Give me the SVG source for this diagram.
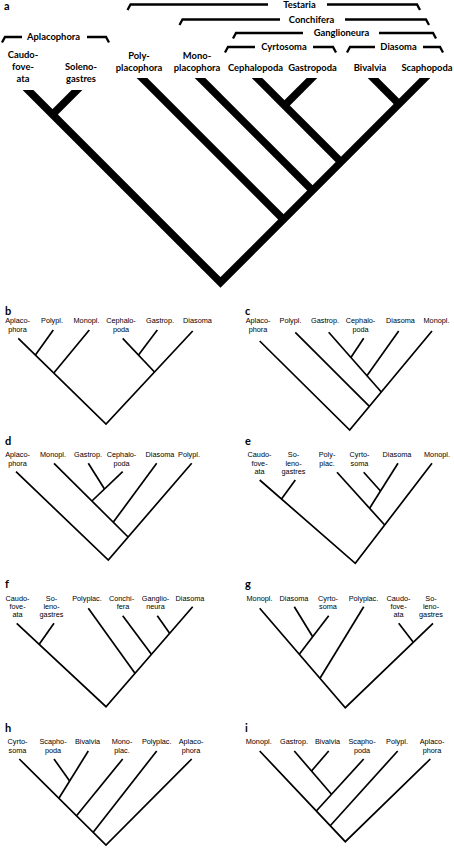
<svg xmlns="http://www.w3.org/2000/svg" width="454" height="850" viewBox="0 0 454 850">
<style>
.lb{font-family:Lato,"Liberation Sans",sans-serif;font-weight:bold;font-size:9.4px;text-anchor:middle;fill:#000}
.ls{font-family:"Liberation Sans",Arial,sans-serif;font-size:7.3px;text-anchor:middle;fill:#000}
.pl{font-family:Lato,"Liberation Sans",sans-serif;font-weight:bold;font-size:11px;fill:#000}
.thick{stroke:#000;stroke-width:7.5;fill:none;stroke-linejoin:miter}
.thin{stroke:#000;stroke-width:1.7;fill:none;stroke-linejoin:miter}
.br{stroke:#000;stroke-width:2.3;fill:none;stroke-linejoin:miter}
</style>
<defs>
<clipPath id="topcut"><path d="M0,90 H110 V78 H454 V300 H0 Z"/></clipPath>
</defs>
<rect width="454" height="850" fill="#fff"/>

<g id="panel-labels">
<text class="pl" x="4" y="10">a</text>
<text class="pl" x="5" y="315">b</text>
<text class="pl" x="245" y="315">c</text>
<text class="pl" x="5" y="445">d</text>
<text class="pl" x="245" y="445">e</text>
<text class="pl" x="5" y="588">f</text>
<text class="pl" x="245" y="588">g</text>
<text class="pl" x="5" y="732">h</text>
<text class="pl" x="245" y="732">i</text>
</g>

<!-- Panel a clade brackets -->
<g id="a-testaria"><path class="br" d="M127.5,10 L130.5,4.5 H268 M327,4.5 H417 L420,10"/><text class="lb" x="299.5" y="7.8">Testaria</text></g>
<g id="a-conchifera"><path class="br" d="M179.5,25 L182.5,19.5 H280 M345,19.5 H426 L429,25"/><text class="lb" x="311.5" y="22.8">Conchifera</text></g>
<g id="a-ganglioneura"><path class="br" d="M233,38.5 L236,33 H303 M379,33 H433 L436,38.5"/><text class="lb" x="341.5" y="36.3">Ganglioneura</text></g>
<g id="a-cyrtosoma"><path class="br" d="M225,52.5 L228,47 H255 M313,47 H333 L336,52.5"/><text class="lb" x="284" y="50.3">Cyrtosoma</text></g>
<g id="a-diasoma"><path class="br" d="M347,52.5 L350,47 H375 M423,47 H440 L443,52.5"/><text class="lb" x="398.5" y="50.3">Diasoma</text></g>
<g id="a-aplacophora"><path class="br" d="M2,42.5 L5,37 H22 M87,37 H106 L109,42.5"/><text class="lb" x="53.5" y="40.3">Aplacophora</text></g>

<!-- Panel a leaves -->
<g id="a-caudofoveata"><text class="lb" x="23" y="57.5">Caudo-</text><text class="lb" x="23" y="69.5">fove-</text><text class="lb" x="23" y="81.5">ata</text></g>
<g id="a-solenogastres"><text class="lb" x="81" y="69.5">Soleno-</text><text class="lb" x="81" y="81.5">gastres</text></g>
<g id="a-polyplacophora"><text class="lb" x="139" y="59">Poly-</text><text class="lb" x="139" y="71">placophora</text></g>
<g id="a-monoplacophora"><text class="lb" x="197" y="59">Mono-</text><text class="lb" x="197" y="71">placophora</text></g>
<g id="a-cephalopoda"><text class="lb" x="255.5" y="71">Cephalopoda</text></g>
<g id="a-gastropoda"><text class="lb" x="312.5" y="71">Gastropoda</text></g>
<g id="a-bivalvia"><text class="lb" x="370" y="71">Bivalvia</text></g>
<g id="a-scaphopoda"><text class="lb" x="427" y="71">Scaphopoda</text></g>

<!-- Panel b -->
<g id="b-aplacophora"><text class="ls" x="17.5" y="323.3">Aplaco-</text><text class="ls" x="17.5" y="331.5">phora</text></g>
<g id="b-polypl"><text class="ls" x="52" y="323.3">Polypl.</text></g>
<g id="b-monopl"><text class="ls" x="86.5" y="323.3">Monopl.</text></g>
<g id="b-cephalopoda"><text class="ls" x="121" y="323.3">Cephalo-</text><text class="ls" x="121" y="331.5">poda</text></g>
<g id="b-gastrop"><text class="ls" x="160" y="323.3">Gastrop.</text></g>
<g id="b-diasoma"><text class="ls" x="197.5" y="323.3">Diasoma</text></g>

<!-- Panel c -->
<g id="c-aplacophora"><text class="ls" x="258" y="323.3">Aplaco-</text><text class="ls" x="258" y="331.5">phora</text></g>
<g id="c-polypl"><text class="ls" x="290.5" y="323.3">Polypl.</text></g>
<g id="c-gastrop"><text class="ls" x="325" y="323.3">Gastrop.</text></g>
<g id="c-cephalopoda"><text class="ls" x="360.5" y="323.3">Cephalo-</text><text class="ls" x="360.5" y="331.5">poda</text></g>
<g id="c-diasoma"><text class="ls" x="400.5" y="323.3">Diasoma</text></g>
<g id="c-monopl"><text class="ls" x="436.5" y="323.3">Monopl.</text></g>

<!-- Panel d -->
<g id="d-aplacophora"><text class="ls" x="17.5" y="457.3">Aplaco-</text><text class="ls" x="17.5" y="465.5">phora</text></g>
<g id="d-monopl"><text class="ls" x="53" y="457.3">Monopl.</text></g>
<g id="d-gastrop"><text class="ls" x="88" y="457.3">Gastrop.</text></g>
<g id="d-cephalopoda"><text class="ls" x="121.5" y="457.3">Cephalo-</text><text class="ls" x="121.5" y="465.5">poda</text></g>
<g id="d-diasoma"><text class="ls" x="160" y="457.3">Diasoma</text></g>
<g id="d-polypl"><text class="ls" x="189" y="457.3">Polypl.</text></g>

<!-- Panel e -->
<g id="e-caudofoveata"><text class="ls" x="259.5" y="457.3">Caudo-</text><text class="ls" x="259.5" y="465.5">fove-</text><text class="ls" x="259.5" y="473.7">ata</text></g>
<g id="e-solenogastres"><text class="ls" x="293.5" y="457.3">So-</text><text class="ls" x="293.5" y="465.5">leno-</text><text class="ls" x="293.5" y="473.7">gastres</text></g>
<g id="e-polyplac"><text class="ls" x="327" y="457.3">Poly-</text><text class="ls" x="327" y="465.5">plac.</text></g>
<g id="e-cyrtosoma"><text class="ls" x="359.5" y="457.3">Cyrto-</text><text class="ls" x="359.5" y="465.5">soma</text></g>
<g id="e-diasoma"><text class="ls" x="397" y="457.3">Diasoma</text></g>
<g id="e-monopl"><text class="ls" x="437" y="457.3">Monopl.</text></g>

<!-- Panel f -->
<g id="f-caudofoveata"><text class="ls" x="17.5" y="600.8">Caudo-</text><text class="ls" x="17.5" y="609">fove-</text><text class="ls" x="17.5" y="617.2">ata</text></g>
<g id="f-solenogastres"><text class="ls" x="51.5" y="600.8">So-</text><text class="ls" x="51.5" y="609">leno-</text><text class="ls" x="51.5" y="617.2">gastres</text></g>
<g id="f-polyplac"><text class="ls" x="87" y="600.8">Polyplac.</text></g>
<g id="f-conchifera"><text class="ls" x="121.5" y="600.8">Conchi-</text><text class="ls" x="123" y="609">fera</text></g>
<g id="f-ganglioneura"><text class="ls" x="155.5" y="600.8">Ganglio-</text><text class="ls" x="155.5" y="609">neura</text></g>
<g id="f-diasoma"><text class="ls" x="190" y="600.8">Diasoma</text></g>

<!-- Panel g -->
<g id="g-monopl"><text class="ls" x="259.5" y="600.8">Monopl.</text></g>
<g id="g-diasoma"><text class="ls" x="294" y="600.8">Diasoma</text></g>
<g id="g-cyrtosoma"><text class="ls" x="328" y="600.8">Cyrto-</text><text class="ls" x="328" y="609">soma</text></g>
<g id="g-polyplac"><text class="ls" x="363.5" y="600.8">Polyplac.</text></g>
<g id="g-caudofoveata"><text class="ls" x="398.5" y="600.8">Caudo-</text><text class="ls" x="398.5" y="609">fove-</text><text class="ls" x="398.5" y="617.2">ata</text></g>
<g id="g-solenogastres"><text class="ls" x="431" y="600.8">So-</text><text class="ls" x="431" y="609">leno-</text><text class="ls" x="431" y="617.2">gastres</text></g>

<!-- Panel h -->
<g id="h-cyrtosoma"><text class="ls" x="17.5" y="744.3">Cyrto-</text><text class="ls" x="17.5" y="752.5">soma</text></g>
<g id="h-scaphopoda"><text class="ls" x="53" y="744.3">Scapho-</text><text class="ls" x="53" y="752.5">poda</text></g>
<g id="h-bivalvia"><text class="ls" x="87.5" y="744.3">Bivalvia</text></g>
<g id="h-monoplac"><text class="ls" x="122" y="744.3">Mono-</text><text class="ls" x="122" y="752.5">plac.</text></g>
<g id="h-polyplac"><text class="ls" x="156.7" y="744.3">Polyplac.</text></g>
<g id="h-aplacophora"><text class="ls" x="191" y="744.3">Aplaco-</text><text class="ls" x="191" y="752.5">phora</text></g>

<!-- Panel i -->
<g id="i-monopl"><text class="ls" x="258.7" y="744.3">Monopl.</text></g>
<g id="i-gastrop"><text class="ls" x="294" y="744.3">Gastrop.</text></g>
<g id="i-bivalvia"><text class="ls" x="327.5" y="744.3">Bivalvia</text></g>
<g id="i-scaphopoda"><text class="ls" x="362" y="744.3">Scapho-</text><text class="ls" x="362" y="752.5">poda</text></g>
<g id="i-polypl"><text class="ls" x="397" y="744.3">Polypl.</text></g>
<g id="i-aplacophora"><text class="ls" x="432" y="744.3">Aplaco-</text><text class="ls" x="432" y="752.5">phora</text></g>

<g id="connectors">
<g id="tree-a" class="thick" clip-path="url(#topcut)">
<path d="M20,82 L220.5,282.5 L433,70"/>
<path d="M52.5,114.5 L83,84"/>
<path d="M283.5,219.5 L136,72"/>
<path d="M312.5,190.5 L194,72"/>
<path d="M341,162 L251,72"/>
<path d="M284.5,105.5 L318,72"/>
<path d="M399,104 L367,72"/>
</g>
<g id="tree-b" class="thin">
<path d="M18.3,338.3 L106,424 L192.7,331"/>
<path d="M53.3,330 L35.4,355"/>
<path d="M89.3,330 L53.8,373"/>
<path d="M122.7,338.3 L154.5,372"/>
<path d="M157.3,330 L138.5,355"/>
</g>
<g id="tree-c" class="thin">
<path d="M259.7,341 L349.7,430 L432,331"/>
<path d="M295.3,332.3 L369.4,406.4"/>
<path d="M328.7,332.3 L381.3,392"/>
<path d="M363.7,338.3 L350.9,357.5"/>
<path d="M398.7,331 L366.9,375.7"/>
</g>
<g id="tree-d" class="thin">
<path d="M16,471.7 L108.3,560 L191.7,463.3"/>
<path d="M54,463.3 L128.1,537"/>
<path d="M122.7,471.7 L91.9,501"/>
<path d="M88.3,463.3 L104.5,489"/>
<path d="M156.7,463.3 L113.2,522.3"/>
</g>
<g id="tree-e" class="thin">
<path d="M259.7,480 L355.3,563.3 L432,463.3"/>
<path d="M295.3,480 L281.5,499"/>
<path d="M337,472.3 L384.7,525"/>
<path d="M398,463.3 L369.6,508.3"/>
<path d="M363.7,472.3 L380.5,491"/>
</g>
<g id="tree-f" class="thin">
<path d="M16.7,623.3 L106,706.7 L192.7,606.7"/>
<path d="M54,623.3 L39.2,644.3"/>
<path d="M88.3,608.3 L135,673.3"/>
<path d="M122.7,615.7 L151.4,654.3"/>
<path d="M157.3,615.7 L169.6,633.3"/>
</g>
<g id="tree-g" class="thin">
<path d="M259.7,608.3 L345.3,707.7 L433,623.3"/>
<path d="M398.7,623.3 L413.3,642.3"/>
<path d="M363.7,606.7 L320,678.3"/>
<path d="M328.7,615.7 L299.3,654.3"/>
<path d="M294.3,606.7 L312.7,636.7"/>
</g>
<g id="tree-h" class="thin">
<path d="M19.3,759 L106,845 L191.7,759"/>
<path d="M156.7,751 L93.2,832.3"/>
<path d="M122.7,759 L76.5,815.7"/>
<path d="M88.3,751 L58.9,798.3"/>
<path d="M54,759 L69.65,781"/>
</g>
<g id="tree-i" class="thin">
<path d="M259.7,751 L345.3,841.7 L430.3,759"/>
<path d="M397.7,751 L330.2,825.7"/>
<path d="M363.7,759 L316.3,811"/>
<path d="M294.3,751 L331.5,794.3"/>
<path d="M328.7,751 L311.5,771"/>
</g>
</g>
</svg>
